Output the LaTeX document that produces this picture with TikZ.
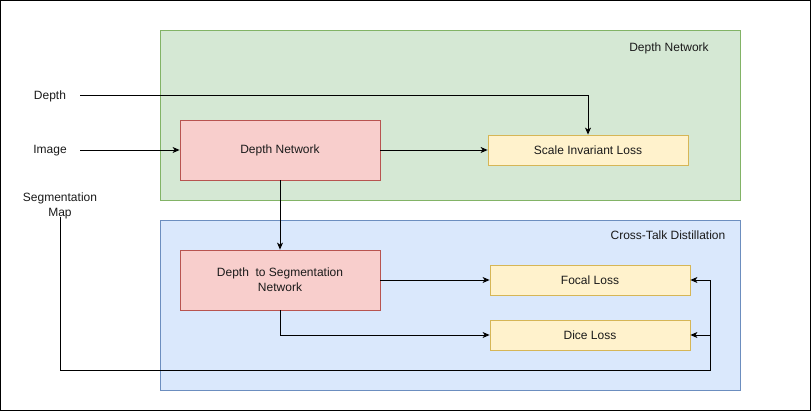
\documentclass[tikz,border=0pt]{standalone}
\usepackage{fontspec}
\setmainfont{Liberation Sans}
\usetikzlibrary{arrows.meta}
\definecolor{gfill}{HTML}{D5E8D4}\definecolor{gline}{HTML}{82B366}
\definecolor{bfill}{HTML}{DAE8FC}\definecolor{bline}{HTML}{6C8EBF}
\definecolor{rfill}{HTML}{F8CECC}\definecolor{rline}{HTML}{B85450}
\definecolor{yfill}{HTML}{FFF2CC}\definecolor{yline}{HTML}{D6B656}
\definecolor{txt}{HTML}{1A1A1A}
\begin{document}
\begin{tikzpicture}[x=1pt,y=-1pt,
  font=\fontsize{12}{15}\selectfont, text=txt,
  grp/.style={draw=#1line,fill=#1fill,line width=0.8pt},
  box/.style={draw=#1line,fill=#1fill,line width=0.8pt,align=center},
  conn/.style={line width=0.9pt,-{Stealth[length=7pt,width=6pt,inset=2pt]}},
  plain/.style={line width=0.9pt}]
\useasboundingbox (0,0) rectangle (811,411);
\draw[line width=1pt] (0.5,0.5) rectangle (810.5,410.5);
% groups
\draw[grp=g] (160,30) rectangle (740,200);
\draw[grp=b] (160,220) rectangle (740,390);
\node (tg) at (669,48) {Depth Network};
\node (tb) at (668,235) {Cross-Talk Distillation};
% boxes
\node[box=r,minimum width=200pt,minimum height=60pt] (dn) at (280,150) {Depth Network};
\node[box=r,minimum width=200pt,minimum height=60pt] (ds) at (280,280) {Depth\ \ to Segmentation\\Network};
\node[box=y,minimum width=200pt,minimum height=30pt] (sil) at (588,150) {Scale Invariant Loss};
\node[box=y,minimum width=200pt,minimum height=30pt] (fl) at (590,280) {Focal Loss};
\node[box=y,minimum width=200pt,minimum height=30pt] (dl) at (590,335) {Dice Loss};
% inputs
\node (depth) at (50,96) {Depth};
\node (img) at (50,151) {Image};
\node[align=center] (seg) at (60,205.5) {Segmentation\\Map};
\coordinate (d0) at (80,95);
\coordinate (i0) at (80,150);
\coordinate (s0) at (60,217);
% connectors
\draw[conn] (d0) -| (sil.north);
\draw[conn] (i0) -- (dn.west);
\draw[conn] (dn.east) -- (sil.west);
\draw[conn] (dn.south) -- (ds.north);
\draw[conn] (ds.east |- fl.west) -- (fl.west);
\draw[conn] (ds.south) |- (dl.west);
\coordinate (c1) at (710,370);
\coordinate (c2) at (710,335);
\draw[plain] (s0) |- (c1) -- (c2);
\draw[conn] (c2) |- (fl.east);
\draw[conn] (c2) -- (dl.east);
\end{tikzpicture}
\end{document}
